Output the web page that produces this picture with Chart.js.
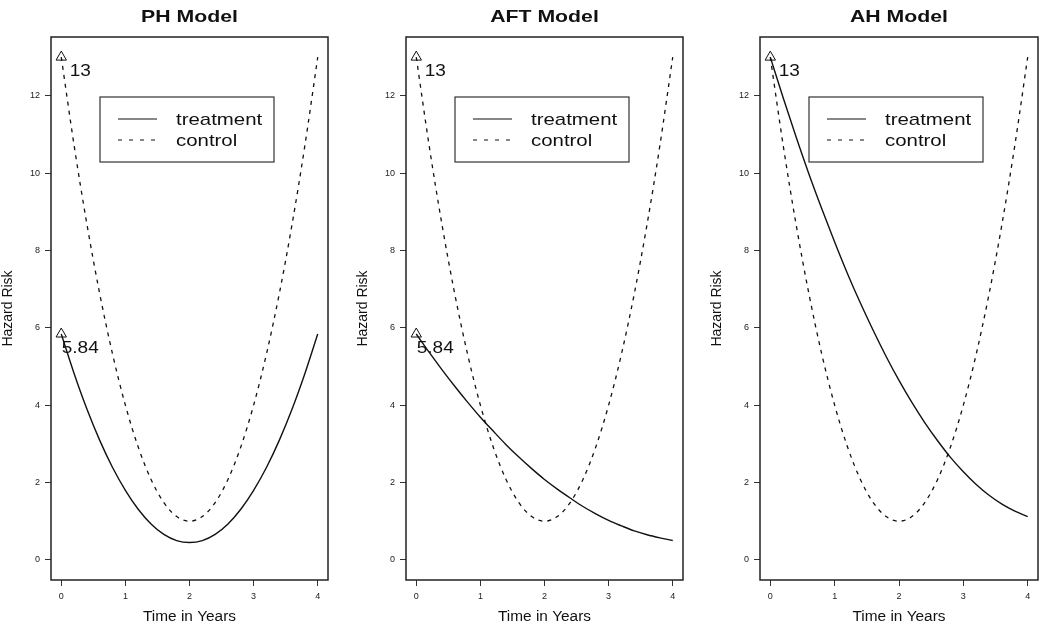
<!DOCTYPE html>
<html>
<head>
<meta charset="utf-8">
<script src="https://cdn.jsdelivr.net/npm/chart.js@4.4.1/dist/chart.umd.min.js"></script>
<style>
  html, body { margin: 0; padding: 0; background: #ffffff; }
  #wrap { position: relative; width: 1050px; height: 633px; overflow: hidden; }
  canvas { position: absolute; top: 0; }
</style>
</head>
<body>
<div id="wrap">
  <canvas id="c0" width="350" height="633" style="left:0px"></canvas>
  <canvas id="c1" width="350" height="633" style="left:355px"></canvas>
  <canvas id="c2" width="350" height="633" style="left:709px"></canvas>
</div>
<script>
// ---- data ----
const times = [0, 0.2, 0.4, 0.6, 0.8, 1.0, 1.2, 1.4, 1.6, 1.8, 2.0, 2.2, 2.4, 2.6, 2.8, 3.0, 3.2, 3.4, 3.6, 3.8, 4.0];
const controlRisk = [13.00, 10.72, 8.68, 6.88, 5.32, 4.00, 2.92, 2.08, 1.48, 1.12, 1.00, 1.12, 1.48, 2.08, 2.92, 4.00, 5.32, 6.88, 8.68, 10.72, 13.00];
const phTreatment = [5.84, 4.82, 3.90, 3.09, 2.39, 1.80, 1.31, 0.93, 0.66, 0.50, 0.45, 0.50, 0.66, 0.93, 1.31, 1.80, 2.39, 3.09, 3.90, 4.82, 5.84];
const aftTreatment = [5.84, 5.37, 4.92, 4.49, 4.08, 3.69, 3.33, 2.98, 2.66, 2.36, 2.08, 1.83, 1.60, 1.38, 1.19, 1.02, 0.88, 0.75, 0.65, 0.57, 0.50];
const ahTreatment = [13.00, 11.95, 10.94, 9.98, 9.08, 8.22, 7.40, 6.64, 5.93, 5.26, 4.64, 4.07, 3.55, 3.08, 2.65, 2.28, 1.95, 1.67, 1.44, 1.26, 1.12];
const panelTitles = ['PH Model', 'AFT Model', 'AH Model'];
const phMarkers = [13, 5.84];
const aftMarkers = [13, 5.84];
const ahMarkers = [13];
const xTickValues = [0, 1, 2, 3, 4];
const yTickValues = [0, 2, 4, 6, 8, 10, 12];
const seriesNames = ['treatment', 'control'];
const xTitle = 'Time in Years';
const yTitle = 'Hazard Risk';

const FONT = '"Liberation Sans", Arial, Helvetica, sans-serif';

function drawStretched(ctx, text, cx, cy, font, sx, align) {
  ctx.save();
  ctx.font = font;
  ctx.fillStyle = '#111';
  ctx.textAlign = align;
  ctx.textBaseline = 'middle';
  ctx.translate(cx, cy);
  ctx.scale(sx, 1);
  ctx.fillText(text, 0, 0);
  ctx.restore();
}

const decoPlugin = {
  id: 'panelDeco',
  afterDraw(chart, args, opts) {
    const ctx = chart.ctx;
    const a = chart.chartArea;
    const xs = chart.scales.x, ys = chart.scales.y;
    const cx = (a.left + a.right) / 2;
    ctx.save();
    // plot box
    ctx.strokeStyle = '#222';
    ctx.lineWidth = 1.5;
    ctx.strokeRect(a.left, a.top, a.right - a.left, a.bottom - a.top);
    // titles
    drawStretched(ctx, opts.title, cx, 17, 'bold 17px ' + FONT, 1.25, 'center');
    drawStretched(ctx, xTitle, cx, 617, '14px ' + FONT, 1.1, 'center');
    ctx.save();
    ctx.translate(8, (a.top + a.bottom) / 2);
    ctx.rotate(-Math.PI / 2);
    ctx.font = '14px ' + FONT;
    ctx.fillStyle = '#111';
    ctx.textAlign = 'center';
    ctx.textBaseline = 'middle';
    ctx.fillText(yTitle, 0, 0);
    ctx.restore();
    // marker labels
    opts.markers.forEach(v => {
      const px = xs.getPixelForValue(0), py = ys.getPixelForValue(v);
      drawStretched(ctx, String(v), px + 19, py + 14, '17px ' + FONT, 1.12, 'center');
    });
    // legend
    const lx = a.left + 49, ly = 97, lw = 174, lh = 65;
    ctx.fillStyle = '#fff';
    ctx.fillRect(lx, ly, lw, lh);
    ctx.strokeStyle = '#333';
    ctx.lineWidth = 1.2;
    ctx.strokeRect(lx, ly, lw, lh);
    ctx.strokeStyle = '#111';
    ctx.lineWidth = 1.2;
    ctx.beginPath(); ctx.setLineDash([]);
    ctx.moveTo(lx + 18, ly + 22); ctx.lineTo(lx + 57, ly + 22); ctx.stroke();
    ctx.beginPath(); ctx.setLineDash([4, 7]);
    ctx.moveTo(lx + 18, ly + 43); ctx.lineTo(lx + 60, ly + 43); ctx.stroke();
    ctx.setLineDash([]);
    drawStretched(ctx, seriesNames[0], lx + 76, ly + 23, '17px ' + FONT, 1.2, 'left');
    drawStretched(ctx, seriesNames[1], lx + 76, ly + 44, '17px ' + FONT, 1.2, 'left');
    ctx.restore();
  }
};

function pts(ys) { return times.map((t, i) => ({ x: t, y: ys[i] })); }

function makePanel(id, title, treatment, markers, rightPad) {
  const cfg = {
    type: 'line',
    data: {
      datasets: [
        { label: seriesNames[0], data: pts(treatment), borderColor: '#111', borderWidth: 1.4,
          pointRadius: 0, cubicInterpolationMode: 'monotone', fill: false },
        { label: seriesNames[1], data: pts(controlRisk), borderColor: '#111', borderWidth: 1.3,
          borderDash: [4, 5], pointRadius: 0, cubicInterpolationMode: 'monotone', fill: false },
        { label: 'markers', data: markers.map(v => ({ x: 0, y: v })), showLine: false,
          pointStyle: 'triangle', pointRadius: 6, pointBorderColor: '#111', pointBorderWidth: 1,
          pointBackgroundColor: 'rgba(0,0,0,0)' }
      ]
    },
    options: {
      responsive: false,
      devicePixelRatio: 1,
      animation: false,
      events: [],
      layout: { padding: { top: 37, right: rightPad, bottom: 0, left: 0 } },
      plugins: {
        legend: { display: false },
        tooltip: { enabled: false },
        title: { display: false },
        panelDeco: { title: title, markers: markers }
      },
      scales: {
        x: {
          type: 'linear', min: -0.16, max: 4.16,
          afterBuildTicks: s => { s.ticks = xTickValues.map(v => ({ value: v })); },
          afterFit: s => { s.height = 53; },
          grid: { display: true, drawOnChartArea: false, drawTicks: true, tickLength: 6, color: '#333', lineWidth: 1 },
          border: { display: false },
          ticks: { autoSkip: false, maxRotation: 0, padding: 5, color: '#222', font: { family: FONT, size: 9 } }
        },
        y: {
          type: 'linear', min: -0.52, max: 13.52,
          afterBuildTicks: s => { s.ticks = yTickValues.map(v => ({ value: v })); },
          afterFit: s => { s.width = 51; },
          grid: { display: true, drawOnChartArea: false, drawTicks: true, tickLength: 6, color: '#333', lineWidth: 1 },
          border: { display: false },
          ticks: { autoSkip: false, padding: 5, color: '#222', font: { family: FONT, size: 9 } }
        }
      }
    },
    plugins: [decoPlugin]
  };
  return new Chart(document.getElementById(id), cfg);
}

makePanel('c0', panelTitles[0], phTreatment, phMarkers, 22);
makePanel('c1', panelTitles[1], aftTreatment, aftMarkers, 22);
makePanel('c2', panelTitles[2], ahTreatment, ahMarkers, 21);
</script>
</body>
</html>
